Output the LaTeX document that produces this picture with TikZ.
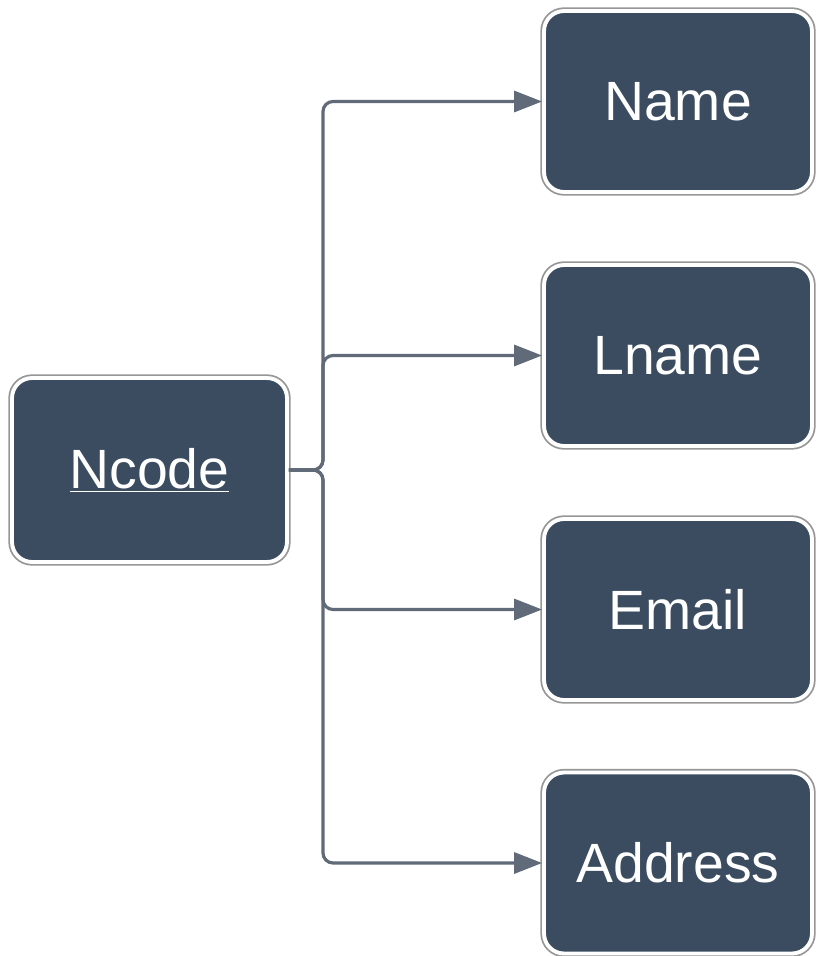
\documentclass[tikz,border=0pt]{standalone}
\usepackage{fontspec}
\setmainfont{Liberation Sans}
\usepackage{xcolor}
\usepackage{tikz}
\usetikzlibrary{arrows.meta}
\definecolor{boxfill}{RGB}{59, 76, 96}
\definecolor{linkgray}{RGB}{96, 106, 120}
\definecolor{rimgray}{RGB}{150, 150, 150}

\tikzset{
  attr/.style={rounded corners=0.4cm, fill=boxfill, draw=white, line width=2.2pt,
    preaction={draw=rimgray, line width=4.2pt},
    text=white, font=\fontsize{31.5}{36}\selectfont,
    minimum width=5.36cm, minimum height=3.62cm, inner sep=0pt},
  link/.style={draw=linkgray, line width=1.8pt, rounded corners=0.2cm,
    -{Triangle[length=0.56cm, width=0.42cm]}}
}

\begin{document}
\begin{tikzpicture}[x=0.02cm, y=-0.02cm]
\useasboundingbox (0,0) rectangle (817,956);
% Key
\node[attr, minimum width=5.5cm, minimum height=3.68cm] (ncode) at (149.5,470) {\underline{Ncode}};
% Attributes
\node[attr] (name) at (678,101.5) {Name};
\node[attr] (lname) at (678,355.5) {Lname};
\node[attr] (email) at (678,609.5) {Email};
\node[attr] (address) at (678,863) {Address};

% Split point
\coordinate (split) at (323,470);
\foreach \t in {name,lname,email,address}
    \draw[link] (ncode.east) -- (split) |- (\t.west);
\end{tikzpicture}
\end{document}
